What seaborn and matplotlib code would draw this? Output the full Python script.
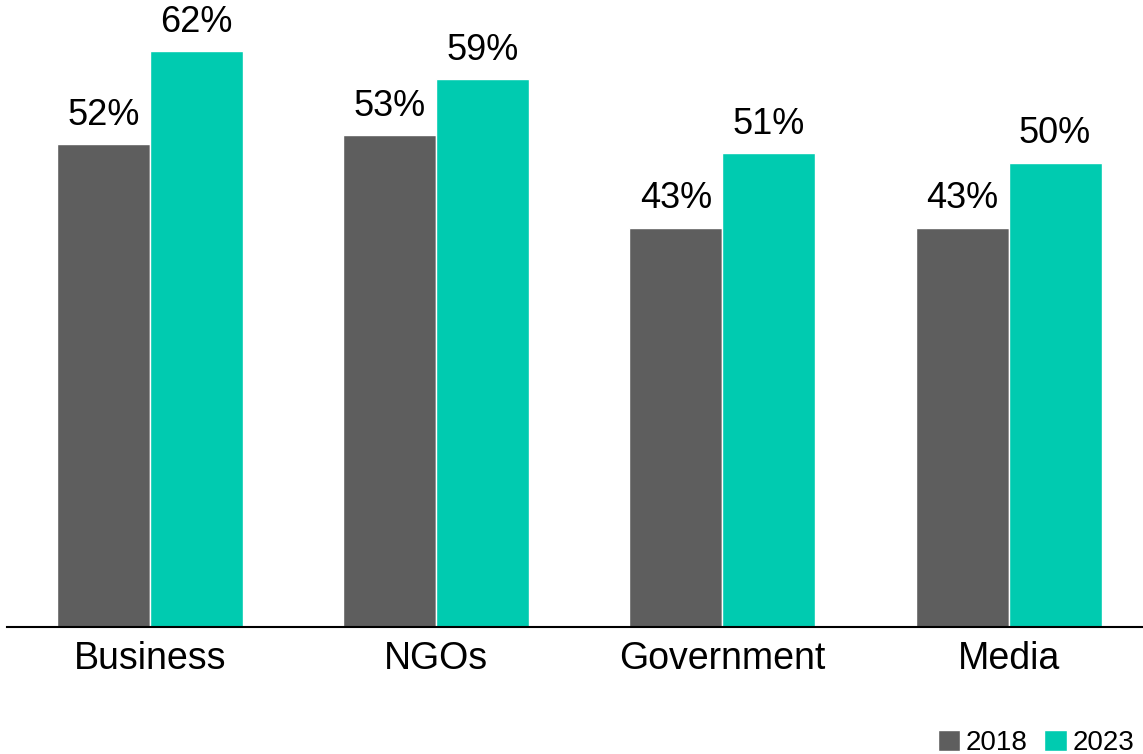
import seaborn as sns
from matplotlib import pyplot as plt
import pandas as pd

categories = ["Business", "NGOs", "Government", "Media"]
years = ["2018", "2023"]
values_2018 = [52, 53, 43, 43]
values_2023 = [62, 59, 51, 50]

df = pd.DataFrame({
    "category": categories * 2,
    "year": [years[0]] * 4 + [years[1]] * 4,
    "value": values_2018 + values_2023,
})

sns.set_style("white")
plt.rcParams['font.family'] = ['Liberation Sans', 'DejaVu Sans']
plt.rcParams['text.color'] = 'black'
plt.rcParams['xtick.color'] = 'black'

fig = plt.figure(figsize=(11.43, 7.54), dpi=100)
ax = fig.add_axes([7 / 1143, 1 - 627 / 754, 1 - 7 / 1143, 627 / 754])

sns.barplot(data=df, x="category", y="value", hue="year", order=categories,
            palette=["#5e5e5e", "#00cbb0"], width=0.65, saturation=1,
            edgecolor="white", linewidth=1, ax=ax, legend=True)

for c in ax.containers:
    ax.bar_label(c, labels=[f"{v:.0f}%" for v in c.datavalues], padding=8,
                 fontsize=26, color="black")

ax.set_xlim(-0.5, 3.47)
ax.set_ylim(0, 67.5)
ax.set_xlabel("")
ax.set_ylabel("")
ax.set_yticks([])
ax.tick_params(axis="x", length=0, labelsize=27, labelcolor="black", pad=10)
for s in ["top", "left", "right"]:
    ax.spines[s].set_visible(False)
ax.spines["bottom"].set_color("black")
ax.spines["bottom"].set_linewidth(1.5)

handles, labels = ax.get_legend_handles_labels()
ax.get_legend().remove()
fig.legend(handles, labels, loc="lower right", bbox_to_anchor=(1.014, -0.036), ncol=2,
           frameon=False, fontsize=20, handlelength=0.8, handleheight=0.8,
           handletextpad=0.2, columnspacing=0.6)

plt.savefig("out.png", dpi=100)
plt.close()
